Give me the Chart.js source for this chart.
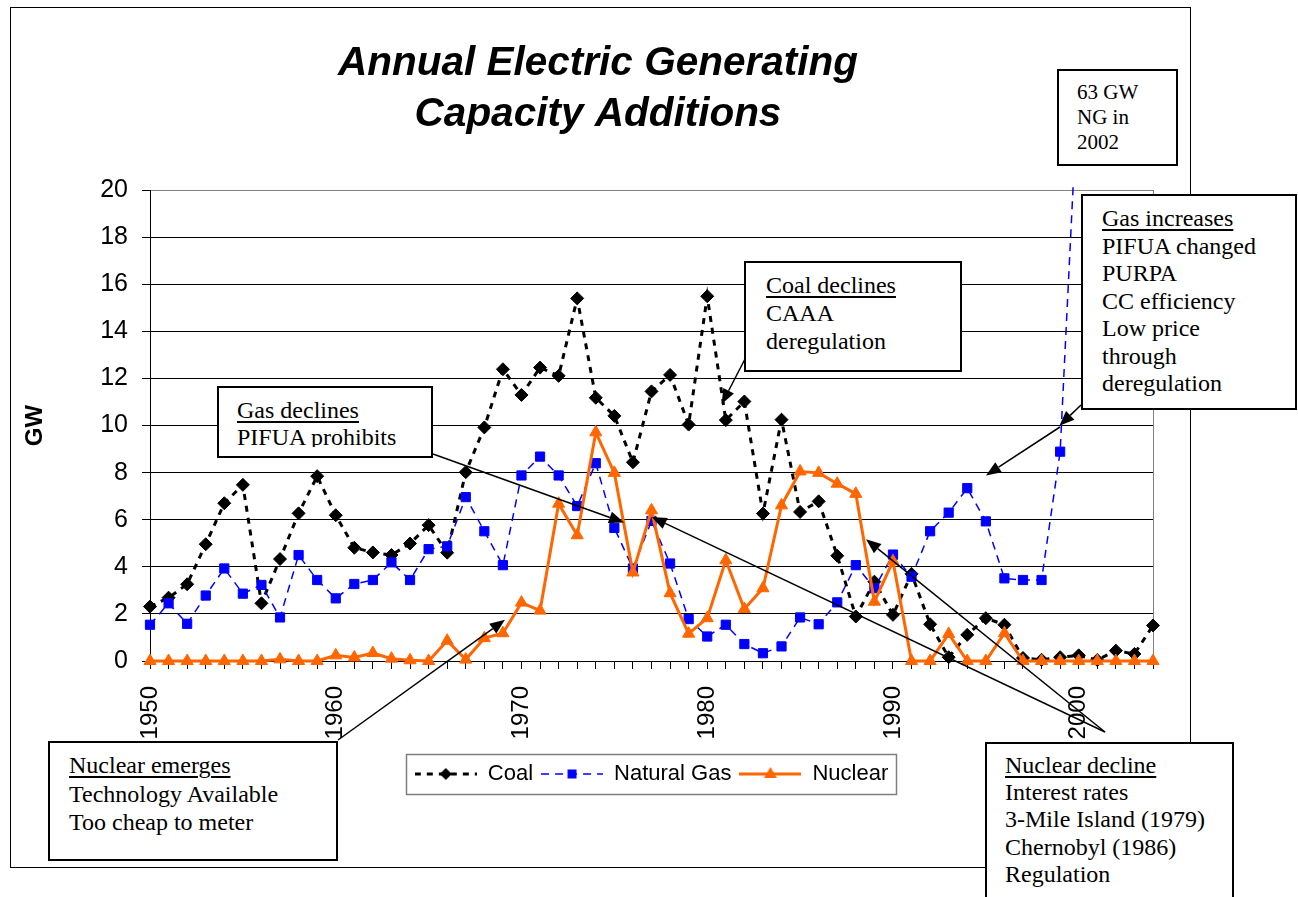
<!DOCTYPE html>
<html>
<head>
<meta charset="utf-8">
<title>Annual Electric Generating Capacity Additions</title>
<script src="https://cdn.jsdelivr.net/npm/chart.js@4.4.1/dist/chart.umd.min.js"></script>
<style>
  body { margin: 0; background: #fff; }
  #page { position: relative; width: 1298px; height: 897px; overflow: hidden; }
  #frame { position: absolute; left: 10px; top: 7px; width: 1179px; height: 859px; border: 1px solid #000; }
  #chart { display: block; }
  .note {
    position: absolute; box-sizing: border-box; background: #fff; border: 2px solid #000;
    font-family: "Liberation Serif", "Times New Roman", serif; font-size: 24px; line-height: 27.5px;
    color: #000; overflow: hidden; white-space: nowrap;
  }
  .note u { text-decoration-thickness: 1.5px; text-underline-offset: 3px; }
</style>
</head>
<body>
<div id="page">
  <div id="frame"><canvas id="chart" width="1179" height="859"></canvas></div>

  <div class="note" style="left:1057px;top:69px;width:121px;height:97px;font-size:21px;line-height:25px;padding:9px 0 0 18px">63 GW<br>NG in<br>2002</div>
  <div class="note" style="left:1081px;top:194px;width:216px;height:216px;padding:9px 0 0 19px"><u>Gas increases</u><br>PIFUA changed<br>PURPA<br>CC efficiency<br>Low price<br>through<br>deregulation</div>
  <div class="note" style="left:744px;top:261px;width:218px;height:111px;line-height:27.8px;padding:9px 0 0 20px"><u>Coal declines</u><br>CAAA<br>deregulation</div>
  <div class="note" style="left:217px;top:386px;width:216px;height:72px;line-height:26.7px;padding:9px 0 0 18px"><div style="height:50px;overflow:hidden"><u>Gas declines</u><br>PIFUA prohibits</div></div>
  <div class="note" style="left:48px;top:741px;width:290px;height:120px;line-height:28.5px;padding:8px 0 0 19px"><u>Nuclear emerges</u><br>Technology Available<br>Too cheap to meter</div>
  <div class="note" style="left:985px;top:742px;width:249px;height:170px;line-height:27.2px;padding:8px 0 0 18px"><u>Nuclear decline</u><br>Interest rates<br>3-Mile Island (1979)<br>Chernobyl (1986)<br>Regulation</div>
</div>

<script>
// Years on the category axis, 1950 - 2004
const years = [];
for (let y = 1950; y <= 2004; y++) years.push(String(y));
const decadeLabels = ["1950", "1960", "1970", "1980", "1990", "2000"];

// Capacity additions in GW
const coal = [
  2.31, 2.69, 3.26, 4.96, 6.70, 7.48, 2.45, 4.33, 6.27, 7.85,
  6.19, 4.81, 4.61, 4.50, 4.99, 5.77, 4.60, 8.02, 9.92, 12.39,
  11.30, 12.46, 12.11, 15.40, 11.18, 10.41, 8.44, 11.45, 12.15, 10.04,
  15.49, 10.23, 11.02, 6.26, 10.25, 6.33, 6.78, 4.47, 1.89, 3.37,
  1.96, 3.70, 1.56, 0.16, 1.11, 1.82, 1.54, 0.13, 0.05, 0.16,
  0.24, 0.04, 0.44, 0.30, 1.51
];
const naturalGas = [
  1.54, 2.45, 1.58, 2.78, 3.93, 2.86, 3.23, 1.85, 4.50, 3.44,
  2.66, 3.27, 3.44, 4.19, 3.44, 4.75, 4.87, 6.96, 5.51, 4.07,
  7.88, 8.68, 7.88, 6.58, 8.40, 5.65, 3.93, 5.95, 4.14, 1.78,
  1.04, 1.54, 0.72, 0.33, 0.62, 1.85, 1.56, 2.49, 4.07, 3.09,
  4.52, 3.58, 5.51, 6.30, 7.34, 5.93, 3.51, 3.44, 3.44, 8.89,
  25, null, 63, null, null
];
const nuclear = [
  0, 0, 0, 0, 0, 0, 0, 0.07, 0, 0,
  0.24, 0.15, 0.34, 0.10, 0.03, 0, 0.86, 0.06, 0.97, 1.18,
  2.48, 2.14, 6.68, 5.34, 9.71, 7.99, 3.76, 6.40, 2.88, 1.16,
  1.82, 4.28, 2.21, 3.09, 6.61, 8.05, 7.99, 7.53, 7.10, 2.52,
  4.24, 0, 0, 1.15, 0, 0, 1.18, 0, 0, 0,
  0, 0, 0, 0, 0
];

const seriesNames = ["Coal", "Natural Gas", "Nuclear"];
const seriesColors = ["#000000", "#0000ff", "#ff6600"];

// Note arrows: tail on a note box (page px), head at (year, GW) in the plot
const arrows = [
  { from: [338, 740], to: [1969.11, 1.75] },
  { from: [433, 454], to: [1975.52, 5.88] },
  { from: [745, 359], to: [1980.78, 10.91] },
  { from: [1081, 405], to: [1998.96, 9.99] },
  { from: [1060, 427], to: [1995.01, 7.88] },
  { from: [1105, 732], to: [1977.01, 6.12] },
  { from: [1105, 732], to: [1988.55, 5.17] }
];
const canvasOffset = [11, 8];

// Small canvas with line + marker, used as the legend symbol
function legendSample(color, lineWidth, dash, marker) {
  const c = document.createElement("canvas");
  c.width = 62;
  c.height = 22;
  const g = c.getContext("2d");
  g.strokeStyle = color;
  g.lineWidth = lineWidth;
  g.setLineDash(dash);
  g.beginPath();
  g.moveTo(0, 11);
  g.lineTo(62, 11);
  g.stroke();
  g.setLineDash([]);
  g.fillStyle = color;
  g.beginPath();
  if (marker === "diamond") {
    g.moveTo(31, 5); g.lineTo(37, 11); g.lineTo(31, 17); g.lineTo(25, 11);
  } else if (marker === "square") {
    g.rect(26.5, 6.5, 9, 9);
  } else {
    g.moveTo(31, 4); g.lineTo(37.5, 15); g.lineTo(24.5, 15);
  }
  g.closePath();
  g.fill();
  return c;
}

const legendSymbols = [
  legendSample(seriesColors[0], 3, [6, 6], "diamond"),
  legendSample(seriesColors[1], 1.5, [8, 6], "square"),
  legendSample(seriesColors[2], 3, [], "triangle")
];

// Gray plot border on the right, box round the legend, note arrows
const extrasPlugin = {
  id: "extras",
  beforeDatasetsDraw(chart) {
    const { ctx, chartArea } = chart;
    ctx.save();
    ctx.strokeStyle = "#808080";
    ctx.lineWidth = 1;
    ctx.beginPath();
    ctx.moveTo(Math.round(chartArea.right) + 0.5, chartArea.top);
    ctx.lineTo(Math.round(chartArea.right) + 0.5, chartArea.bottom);
    ctx.stroke();
    ctx.restore();
  },
  afterDraw(chart) {
    const { ctx } = chart;
    const boxes = chart.legend.legendHitBoxes;
    if (boxes && boxes.length) {
      const first = boxes[0];
      const last = boxes[boxes.length - 1];
      ctx.save();
      ctx.strokeStyle = "#7f7f7f";
      ctx.lineWidth = 1.5;
      ctx.strokeRect(
        Math.round(first.left - 9) + 0.5,
        Math.round(first.top - 9) + 0.5,
        Math.round(last.left + last.width - first.left + 17),
        Math.round(first.height + 18)
      );
      ctx.restore();
    }
    const x = chart.scales.x;
    const y = chart.scales.y;
    ctx.save();
    ctx.strokeStyle = "#000";
    ctx.fillStyle = "#000";
    ctx.lineWidth = 1.5;
    arrows.forEach((a) => {
      const x0 = a.from[0] - canvasOffset[0];
      const y0 = a.from[1] - canvasOffset[1];
      const x1 = x.getPixelForValue(a.to[0] - 1950);
      const y1 = y.getPixelForValue(a.to[1]);
      const ang = Math.atan2(y1 - y0, x1 - x0);
      const len = 15;
      const half = 6;
      const bx = x1 - Math.cos(ang) * len;
      const by = y1 - Math.sin(ang) * len;
      ctx.beginPath();
      ctx.moveTo(x0, y0);
      ctx.lineTo(bx, by);
      ctx.stroke();
      ctx.beginPath();
      ctx.moveTo(x1, y1);
      ctx.lineTo(bx + Math.sin(ang) * half, by - Math.cos(ang) * half);
      ctx.lineTo(bx - Math.sin(ang) * half, by + Math.cos(ang) * half);
      ctx.closePath();
      ctx.fill();
    });
    ctx.restore();
  }
};

Chart.defaults.font.family = '"Liberation Sans", Arial, sans-serif';
Chart.defaults.color = "#000";

const plotClip = { left: 12, top: 8, right: 12, bottom: 12 };

new Chart(document.getElementById("chart"), {
  type: "line",
  data: {
    labels: years,
    datasets: [
      {
        label: seriesNames[0],
        data: coal,
        order: 2,
        borderColor: seriesColors[0],
        backgroundColor: seriesColors[0],
        borderWidth: 3,
        borderDash: [6, 6],
        pointStyle: "rectRot",
        pointRadius: 6.5,
        pointBorderWidth: 1,
        clip: plotClip
      },
      {
        label: seriesNames[1],
        data: naturalGas,
        order: 1,
        borderColor: seriesColors[1],
        backgroundColor: seriesColors[1],
        borderWidth: 1.5,
        borderDash: [8, 6],
        pointStyle: "rect",
        pointRadius: 6.5,
        pointBorderWidth: 1,
        clip: plotClip
      },
      {
        label: seriesNames[2],
        data: nuclear,
        order: 0,
        borderColor: seriesColors[2],
        backgroundColor: seriesColors[2],
        borderWidth: 3,
        pointStyle: "triangle",
        pointRadius: 7,
        pointBorderWidth: 1,
        clip: plotClip
      }
    ]
  },
  options: {
    responsive: false,
    animation: false,
    // left padding keeps the title centred on the frame
    layout: { padding: { left: 32, right: 37, top: 0, bottom: 72 } },
    plugins: {
      tooltip: { enabled: false },
      title: {
        display: true,
        text: ["Annual Electric Generating", "Capacity Additions"],
        font: { size: 40.5, weight: "bold", style: "italic", lineHeight: 1.26 },
        color: "#000",
        padding: { top: 30, bottom: 50 }
      },
      legend: {
        position: "bottom",
        fullSize: false,
        labels: {
          font: { size: 22 },
          color: "#000",
          usePointStyle: true,
          pointStyleWidth: 62,
          padding: 8,
          generateLabels: () =>
            seriesNames.map((name, i) => ({
              text: name,
              pointStyle: legendSymbols[i],
              fillStyle: seriesColors[i],
              strokeStyle: seriesColors[i],
              lineWidth: 0,
              hidden: false,
              datasetIndex: i
            }))
        }
      }
    },
    scales: {
      x: {
        type: "category",
        offset: false,
        afterFit: (scale) => {
          scale.height = 94;
          scale.paddingRight = 0;
        },
        grid: { drawOnChartArea: false, drawTicks: true, tickLength: 8, color: "#000" },
        border: { display: true, color: "#000", width: 1 },
        ticks: {
          autoSkip: false,
          minRotation: 90,
          maxRotation: 90,
          padding: 17,
          font: { size: 24 },
          color: "#000",
          callback: (value, index) => (decadeLabels.includes(years[index]) ? years[index] : "")
        }
      },
      y: {
        min: 0,
        max: 20,
        afterFit: (scale) => { scale.width = 107; },
        grid: {
          color: (c) => (c.tick && c.tick.value === 20 ? "#808080" : "#000"),
          tickColor: "#000",
          tickLength: 8
        },
        border: { display: true, color: "#000", width: 1 },
        ticks: { stepSize: 2, padding: 14, font: { size: 25 }, color: "#000" },
        title: {
          display: true,
          text: "GW",
          font: { size: 24, weight: "bold" },
          color: "#000",
          padding: { top: -22, bottom: 0 }
        }
      }
    }
  },
  plugins: [extrasPlugin]
});
</script>
</body>
</html>
